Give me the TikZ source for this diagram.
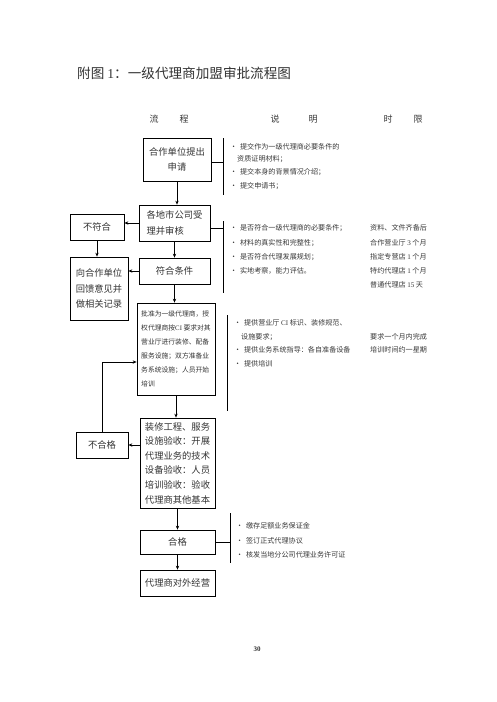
\documentclass[tikz,border=0pt]{standalone}
\usepackage{fontspec}
\setmainfont{Noto Sans CJK SC}
\newfontfamily\lat{Liberation Serif}
\usetikzlibrary{arrows.meta}
\begin{document}
\begin{tikzpicture}[x=1pt,y=-1pt,
  boxa/.style={draw,line width=0.7pt,inner sep=0pt,text=black!80,font=\fontsize{9.3}{15.5}\selectfont},
  boxs/.style={draw,line width=0.7pt,inner sep=0pt,text=black!80,font=\fontsize{6.8}{14}\selectfont},
  bul/.style={anchor=west,inner sep=0pt,text=black!78,font=\fontsize{7.1}{8}\selectfont},
  hdr/.style={inner sep=0pt,text=black!78,font=\fontsize{9}{10}\selectfont},
  arr/.style={-{Stealth[length=4pt,width=3.4pt]},line width=0.7pt},
  ln/.style={line width=0.7pt}]
\useasboundingbox (0,0) rectangle (496,702);
% title and headers
\node[anchor=west,inner sep=0pt,text=black!80,font=\fontsize{13.6}{14}\selectfont] (title) at (77,73) {附图 {\lat 1}：一级代理商加盟审批流程图};
\node[hdr] (h1) at (154,119) {流};
\node[hdr] (h2) at (184,119) {程};
\node[hdr] (h3) at (275,119) {说};
\node[hdr] (h4) at (313,119) {明};
\node[hdr] (h5) at (388,119) {时};
\node[hdr] (h6) at (418,119) {限};
% boxes
\node[boxa,minimum width=68pt,minimum height=43pt,align=center] (box1) at (177,159.5) {合作单位提出\\申请};
\node[boxa,minimum width=71pt,minimum height=36pt,align=left] (box2) at (174.5,223) {各地市公司受\\理并审核};
\node[boxa,minimum width=54pt,minimum height=26pt] (nfh) at (97,227) {不符合};
\node[boxa,minimum width=58pt,minimum height=63pt,align=left] (fb) at (99,288.5) {向合作单位\\回馈意见并\\做相关记录};
\node[boxa,minimum width=71pt,minimum height=26pt] (fh) at (174.5,271) {符合条件};
\node[boxs,minimum width=78pt,minimum height=92pt,align=left] (box3) at (176,349) {批准为一级代理商，授\\权代理商按{\lat CI} 要求对其\\营业厅进行装修、配备\\服务设施；双方准备业\\务系统设施；人员开始\\培训};
\node[boxa,minimum width=52pt,minimum height=26pt] (bhg) at (102,445) {不合格};
\node[boxa,minimum width=75pt,minimum height=90pt,align=left,font=\fontsize{9.3}{14.6}\selectfont] (box4) at (177.5,463) {装修工程、服务\\设施验收：开展\\代理业务的技术\\设备验收：人员\\培训验收：验收\\代理商其他基本};
\node[boxa,minimum width=75pt,minimum height=24pt] (hg) at (177.5,542) {合格};
\node[boxa,minimum width=75pt,minimum height=26pt] (fin) at (177.5,583) {代理商对外经营};
% flow arrows
\draw[arr] (box1.south) -- (box1.south |- box2.north);
\draw[arr] (box2.west) -- (box2.west -| nfh.east);
\draw[arr] (nfh.south) -- (nfh.south |- fb.north);
\draw[arr] (fh.west) -- (fh.west -| fb.east);
\draw[arr] (box2.south) -- (fh.north);
\draw[arr] (fh.south) -- (fh.south |- box3.north);
\coordinate (lp) at (102,362);
\draw[arr] (bhg.north) |- (box3.west |- lp);
\draw[arr] (box3.south) -- (box3.south |- box4.north);
\draw[arr] (bhg.east -| box4.west) -- (bhg.east);
\draw[arr] (box4.south) -- (box4.south |- hg.north);
\draw[arr] (hg.south) -- (hg.south |- fin.north);
% brackets
\coordinate (br1t) at (223,138); \coordinate (br1b) at (223,195);
\draw[ln] (br1t) -- (br1b);
\draw[ln] ([yshift=-3pt]box1.east) -- ([yshift=-3pt]box1.east -| br1t);
\coordinate (br2t) at (223,221); \coordinate (br2b) at (223,293);
\draw[ln] (br2t) -- (br2b);
\draw[ln] ([yshift=-5pt]box2.east) -- ([yshift=-5pt]box2.east -| br2t);
\coordinate (br3t) at (227,315); \coordinate (br3b) at (227,411);
\draw[ln] (br3t) -- (br3b);
\coordinate (br4t) at (230,513); \coordinate (br4b) at (230,563);
\draw[ln] (br4t) -- (br4b);
\draw[ln] (hg.east) -- (hg.east -| br4t);
% notes for box1
\node[bul] (n11) at (230,147) {•\, 提交作为一级代理商必要条件的};
\node[bul] (n12) at (237,159) {资质证明材料；};
\node[bul] (n13) at (230,172) {•\, 提交本身的背景情况介绍；};
\node[bul] (n14) at (230,186) {•\, 提交申请书；};
% notes for box2
\node[bul] (n21) at (230,228) {•\, 是否符合一级代理商的必要条件；};
\node[bul] (n22) at (230,243) {•\, 材料的真实性和完整性；};
\node[bul] (n23) at (230,257) {•\, 是否符合代理发展规划；};
\node[bul] (n24) at (230,271) {•\, 实地考察，能力评估。};
\node[bul] (t21) at (370,228) {资料、文件齐备后};
\node[bul] (t22) at (370,243) {合作营业厅 {\lat 3} 个月};
\node[bul] (t23) at (370,257) {指定专营店 {\lat 1} 个月};
\node[bul] (t24) at (370,271) {特约代理店 {\lat 1} 个月};
\node[bul] (t25) at (370,285) {普通代理店 {\lat 15} 天};
% notes for box3
\node[bul] (n31) at (234,323) {•\, 提供营业厅 {\lat CI} 标识、装修规范、};
\node[bul] (n32) at (241,337) {设施要求；};
\node[bul] (n33) at (234,350) {•\, 提供业务系统指导：各自准备设备};
\node[bul] (n34) at (234,364) {•\, 提供培训};
\node[bul] (t31) at (370,337) {要求一个月内完成};
\node[bul] (t32) at (370,350) {培训时间约一星期};
% notes for hg
\node[bul] (n41) at (236,526) {•\, 缴存足额业务保证金};
\node[bul] (n42) at (236,541) {•\, 签订正式代理协议};
\node[bul] (n43) at (236,555) {•\, 核发当地分公司代理业务许可证};
% page number
\node[inner sep=0pt,font=\lat\fontsize{7}{8}\selectfont\bfseries,text=black!80] (pg) at (257,649) {30};
\end{tikzpicture}
\end{document}
